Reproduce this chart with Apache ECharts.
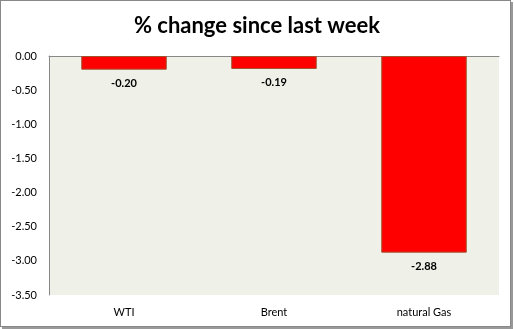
<!DOCTYPE html>
<html><head><meta charset="utf-8">
<script src="https://cdn.jsdelivr.net/npm/echarts@6/dist/echarts.min.js"></script>
<style>
html,body{margin:0;padding:0;background:#fff;}
#frame{position:absolute;left:0;top:0;width:509px;height:325px;border:1px solid #888;box-shadow:2px 2px 0 #999;background:#fff;}
#c{position:absolute;left:0;top:0;width:514px;height:329px;}
</style></head>
<body>
<div id="frame"></div>
<div id="c"></div>
<script>
const categories = ['WTI', 'Brent', 'natural Gas'];
const changes = [-0.20, -0.19, -2.88];
const titleText = '% change since last week';

const chart = echarts.init(document.getElementById('c'));
chart.setOption({
  animation: false,
  title: {
    text: titleText, left: 'center', top: 10,
    textStyle: { fontFamily: 'Lato', fontWeight: 'bold', fontSize: 22, color: '#000' }
  },
  grid: { left: 49, right: 15, top: 56, bottom: 34, show: true, backgroundColor: '#EFF0E8', borderWidth: 0 },
  xAxis: [{
    type: 'category', data: categories, position: 'top',
    axisLine: { show: true, lineStyle: { color: '#888', width: 1 } },
    axisTick: { show: false },
    axisLabel: { show: false }
  }, {
    type: 'category', data: categories, position: 'bottom',
    axisLine: { show: false }, axisTick: { show: false },
    axisLabel: { fontFamily: 'Lato', fontSize: 11, color: '#000', margin: 12 }
  }],
  yAxis: {
    type: 'value', min: -3.5, max: 0, interval: 0.5,
    axisLine: { show: true, lineStyle: { color: '#888', width: 1 } },
    axisTick: { show: false },
    splitLine: { show: false },
    axisLabel: { formatter: v => v.toFixed(2), fontFamily: 'Lato', fontSize: 11, color: '#000', margin: 12 }
  },
  series: [{
    type: 'bar', data: changes, barWidth: '57%', xAxisIndex: 0,
    itemStyle: { color: '#FF0000', borderColor: '#A0522D', borderWidth: 1 },
    label: { show: true, position: 'bottom', distance: 8, formatter: p => p.value.toFixed(2),
      fontFamily: 'Lato', fontWeight: 'bold', fontSize: 11, color: '#000' }
  }]
});
</script>
</body></html>
